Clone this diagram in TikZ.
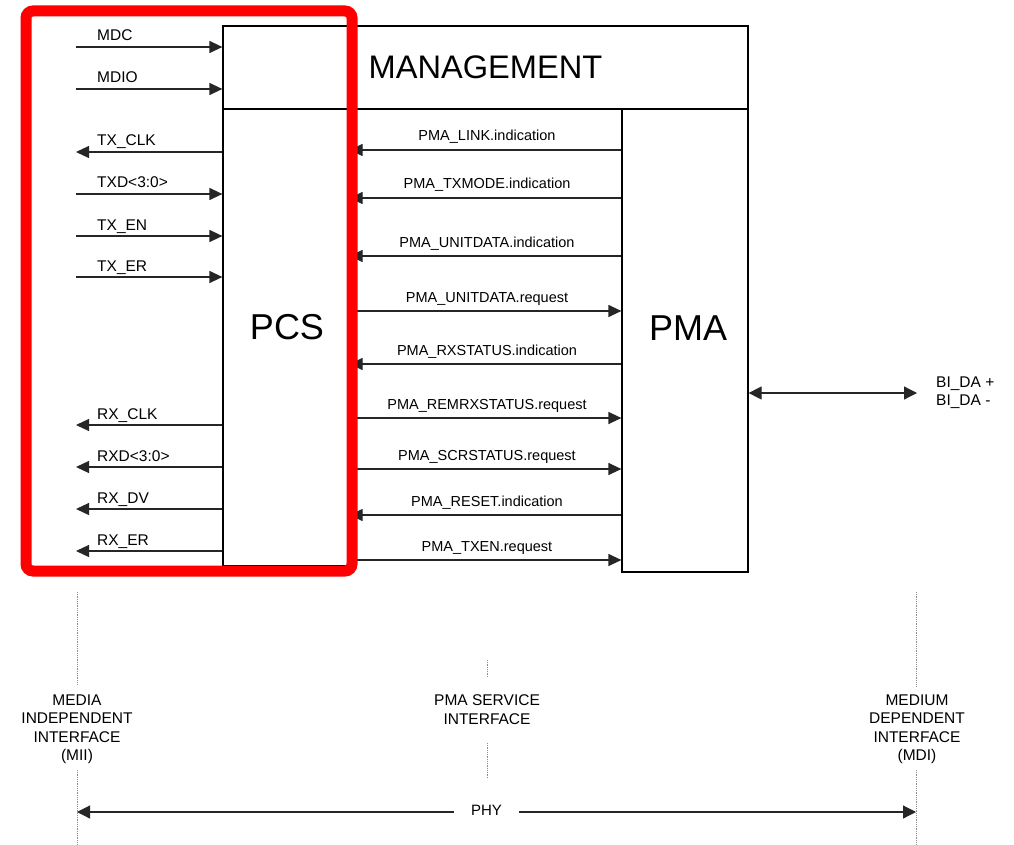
\documentclass[tikz,border=0pt]{standalone}
\usepackage{fontspec}
\setmainfont{Liberation Sans}
\usetikzlibrary{arrows.meta}
\begin{document}
\begin{tikzpicture}[x=1pt,y=-1pt,
  box/.style={draw=black, line width=1.2pt, inner sep=0pt},
  sig/.style={draw=black!85, line width=1.2pt},
  tip/.style={-{Triangle[length=13pt,width=12pt]}},
  biarrow/.style={{Triangle[length=13pt,width=13pt]}-{Triangle[length=13pt,width=13pt]}},
  leftlab/.style={font=\fontsize{15.5}{18}\selectfont, inner sep=0pt, anchor=base west},
  midlab/.style={font=\fontsize{14.5}{17}\selectfont, inner sep=0pt, anchor=base},
  biglab/.style={font=\fontsize{36}{40}\selectfont, inner sep=0pt},
  iflab/.style={font=\fontsize{15.5}{18.5}\selectfont, inner sep=0pt, align=center, anchor=north},
  dotline/.style={draw=black!45, line width=0.8pt, dash pattern=on 1pt off 0.8pt},
]
\useasboundingbox (0,0) rectangle (1014,845);

% boxes
\node[box, minimum width=525pt, minimum height=83pt,
      font=\fontsize{32.6}{36}\selectfont] (mgmt) at (485.5,67.5) {MANAGEMENT};
\node[box, minimum width=126pt, minimum height=457pt] (pcs) at (286,337.5) {};
\node[box, minimum width=126pt, minimum height=463pt] (pma) at (685,340.5) {};
\node[biglab] (pcstext) at (287,327) {PCS};
\node[biglab] (pmatext) at (688,328) {PMA};

% management signals
\foreach \y/\t [count=\i] in {47/MDC, 89/MDIO}{
  \coordinate (m\i) at (76,\y);
  \draw[sig,tip] (m\i) -- (m\i -| mgmt.west);
  \node[leftlab] (ml\i) at (97,{\y-6}) {\t};
}

% MII inputs / outputs
\foreach \y/\t/\d [count=\i] in {152/TX\_CLK/out, 194/TXD<3:0>/in, 236/TX\_EN/in, 277/TX\_ER/in,
                                   425/RX\_CLK/out, 467/RXD<3:0>/out, 509/RX\_DV/out, 551/RX\_ER/out}{
  \coordinate (l\i) at (76,\y);
  \ifnum\pdfstrcmp{\d}{in}=0
    \draw[sig,tip] (l\i) -- (l\i -| pcs.west);
  \else
    \draw[sig,tip] (l\i -| pcs.west) -- (l\i);
  \fi
  \node[leftlab] (ll\i) at (97,{\y-6}) {\t};
}

% PMA service interface
\foreach \y/\t/\d [count=\i] in {150/PMA\_LINK.indication/ind, 198/PMA\_TXMODE.indication/ind,
                                   256/PMA\_UNITDATA.indication/ind, 311/PMA\_UNITDATA.request/req,
                                   364/PMA\_RXSTATUS.indication/ind, 418/PMA\_REMRXSTATUS.request/req,
                                   469/PMA\_SCRSTATUS.request/req, 515/PMA\_RESET.indication/ind,
                                   560/PMA\_TXEN.request/req}{
  \coordinate (p\i) at (487,\y);
  \ifnum\pdfstrcmp{\d}{ind}=0
    \draw[sig,tip] (p\i -| pma.west) -- (p\i -| pcs.east);
  \else
    \draw[sig,tip] (p\i -| pcs.east) -- (p\i -| pma.west);
  \fi
  \node[midlab] (pl\i) at (487,{\y-9}) {\t};
}

% MDI
\coordinate (mdiend) at (917,393);
\draw[sig,biarrow] (mdiend -| pma.east) -- (mdiend);
\node[font=\fontsize{15.5}{18}\selectfont, inner sep=0pt, align=left, anchor=north west]
  (bida) at (936,376.5) {BI\_DA +\\BI\_DA -};

% interface dotted lines
\draw[dotline] (77,592) -- (77,685) (77,770) -- (77,845);
\draw[dotline] (487,660) -- (487,677) (487,743) -- (487,779);
\draw[dotline] (916,592) -- (916,686) (916,770) -- (916,845);

\node[iflab] (mii) at (77,694.5) {MEDIA\\INDEPENDENT\\INTERFACE\\(MII)};
\node[iflab] (psi) at (487,694.5) {PMA SERVICE\\INTERFACE};
\node[iflab] (mdi) at (917,694.5) {MEDIUM\\DEPENDENT\\INTERFACE\\(MDI)};

% PHY span
\coordinate (phyl) at (77,812);
\coordinate (phyr) at (916,812);
\draw[sig,biarrow] (phyl) -- (phyr);
\node[fill=white, inner xsep=17pt, inner ysep=2pt, font=\fontsize{15}{18}\selectfont]
  (phy) at (486.5,810.5) {PHY};

% red highlight
\node[draw=red, line width=11pt, rounded corners=7pt, inner sep=0pt,
      minimum width=326pt, minimum height=560pt] (hl) at (189,291) {};
\end{tikzpicture}
\end{document}
